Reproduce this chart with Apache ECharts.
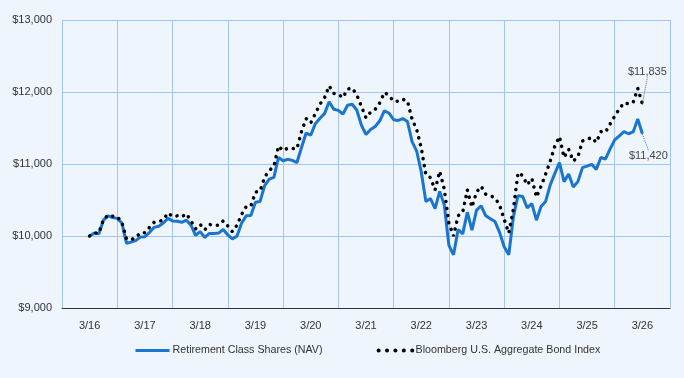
<!DOCTYPE html>
<html lang="en">
<head>
    <meta charset="UTF-8">
    <title>growth of 10k</title>
    <script type="text/javascript" src="https://cdn.jsdelivr.net/npm/echarts@6/dist/echarts.min.js"></script>
    <style>
        html, body { margin: 0; padding: 0; background: #eef5fc; }
    </style>
</head>
<body>
    <div id="main" style="width: 684px; height: 378px"></div>
    <script type="text/javascript">
        // year labels, one per column
        var yearLabels = ['3/16', '3/17', '3/18', '3/19', '3/20', '3/21', '3/22', '3/23', '3/24', '3/25', '3/26'];

        // monthly values, 3/16 .. 3/26
        var fundValues = [
            10000, 10040, 10030, 10220, 10280, 10255, 10245, 10180, 9900, 9915, 9935, 9985,
            9990, 10050, 10120, 10135, 10180, 10245, 10210, 10205, 10190, 10220, 10150, 10010,
            10060, 9980, 10035, 10035, 10040, 10090, 10015, 9960, 10000, 10180, 10280, 10285,
            10470, 10480, 10700, 10790, 10815, 11090, 11045, 11065, 11050, 11020, 11230, 11430,
            11400, 11560, 11635, 11700, 11865, 11760, 11745, 11695, 11815, 11830, 11750, 11540,
            11410, 11480, 11520, 11600, 11740, 11705, 11615, 11605, 11630, 11590, 11310, 11180,
            10890, 10480, 10520, 10380, 10620, 10430, 9870, 9740, 10090, 10030, 10330, 10080,
            10360, 10420, 10280, 10240, 10200, 10050, 9850, 9740, 10270, 10560, 10550, 10390,
            10450, 10220, 10410, 10480, 10710, 10870, 11020, 10755, 10860, 10680, 10755, 10950,
            10970, 10995, 10925, 11090, 11070, 11210, 11335, 11390, 11450, 11420, 11445, 11625,
            11420
        ];
        var indexValues = [
            10000, 10040, 10040, 10230, 10290, 10275, 10270, 10190, 9960, 9950, 9975, 10045,
            10045, 10120, 10190, 10200, 10225, 10320, 10270, 10280, 10265, 10310, 10210, 10100,
            10160, 10085, 10160, 10150, 10150, 10210, 10140, 10060, 10150, 10300, 10410, 10415,
            10610, 10625, 10820, 10910, 10965, 11250, 11185, 11220, 11215, 11210, 11450, 11630,
            11570, 11700, 11830, 11920, 12085, 11980, 11970, 11920, 12040, 12055, 11960, 11800,
            11640, 11720, 11760, 11850, 11995, 11950, 11870, 11870, 11900, 11875, 11620, 11480,
            11220, 10850, 10810, 10640, 10900, 10650, 10180, 10000, 10280, 10330, 10640, 10400,
            10610, 10690, 10580, 10560, 10530, 10430, 10230, 10040, 10370, 10880, 10840, 10710,
            10800, 10540, 10690, 10860, 11040, 11250, 11380, 11090, 11205, 11040, 11100, 11320,
            11340, 11370, 11300, 11450, 11440, 11556, 11665, 11765, 11850, 11835, 11855, 12050,
            11835
        ];

        var gridColor = '#a3c5ef';
        var fontFamily = '"Liberation Sans", Arial, sans-serif';

        function money(v) {
            return '$' + Math.round(v).toLocaleString('en-US');
        }

        // [month, value] pairs; last point gets a tiny symbol so it can carry the end label
        function toPoints(values, color, labelCfg) {
            var last = values.length - 1;
            return values.map(function (v, i) {
                if (i === last) {
                    return {
                        value: [i, v],
                        symbol: 'circle',
                        symbolSize: 1,
                        itemStyle: { color: color },
                        label: labelCfg
                    };
                }
                return [i, v];
            });
        }

        var myChart = echarts.init(document.getElementById('main'));

        var option = {
            backgroundColor: '#eef5fc',
            animation: false,
            textStyle: { fontFamily: fontFamily },
            grid: { left: 62, right: 14, top: 20, bottom: 70 },
            legend: {
                left: 129,
                top: 340,
                itemWidth: 34,
                itemHeight: 12,
                itemGap: 54,
                itemStyle: { opacity: 0 },
                textStyle: { color: '#333', fontSize: 10.7, fontFamily: fontFamily, padding: [0, 0, 0, -2] },
                data: [
                    { name: 'Retirement Class Shares (NAV)', lineStyle: { width: 3 } },
                    { name: 'Bloomberg U.S. Aggregate Bond Index', lineStyle: { width: 4, type: [0.1, 8.3], cap: 'round' } }
                ]
            },
            xAxis: [
                {
                    type: 'category',
                    data: yearLabels,
                    boundaryGap: true,
                    axisTick: { show: false },
                    axisLine: { lineStyle: { color: '#333', width: 1 } },
                    axisLabel: { color: '#333', fontSize: 11, margin: 12 },
                    splitLine: { show: true, lineStyle: { color: gridColor, width: 1 } }
                },
                {
                    // hidden monthly scale, centred on the year columns
                    type: 'value',
                    min: -6,
                    max: 126,
                    show: false
                }
            ],
            yAxis: {
                type: 'value',
                min: 9000,
                max: 13000,
                interval: 1000,
                axisLine: { show: false },
                axisTick: { show: false },
                axisLabel: {
                    color: '#333',
                    fontSize: 11,
                    margin: 10,
                    formatter: money
                },
                splitLine: { lineStyle: { color: gridColor, width: 1 } }
            },
            series: [
                {
                    name: 'Bloomberg U.S. Aggregate Bond Index',
                    type: 'line',
                    xAxisIndex: 1,
                    symbol: 'none',
                    color: '#000',
                    lineStyle: { color: '#000', width: 3.5, type: [0.1, 7], cap: 'round' },
                    data: toPoints(indexValues, '#000', {
                        show: true,
                        position: 'top',
                        color: '#444',
                        fontSize: 11,
                        formatter: function (p) { return money(p.value[1]); }
                    }),
                    labelLayout: { dx: 5, dy: -21 },
                    labelLine: { show: true, lineStyle: { color: '#666', type: 'dotted', width: 1 } },
                    z: 3
                },
                {
                    name: 'Retirement Class Shares (NAV)',
                    type: 'line',
                    xAxisIndex: 1,
                    symbol: 'none',
                    color: '#1a75cf',
                    lineStyle: { color: '#1a75cf', width: 3 },
                    data: toPoints(fundValues, '#1a75cf', {
                        show: true,
                        position: 'bottom',
                        color: '#444',
                        fontSize: 11,
                        formatter: function (p) { return money(p.value[1]); }
                    }),
                    labelLayout: { dx: 6, dy: 11 },
                    labelLine: { show: true, lineStyle: { color: '#1a75cf', type: 'dotted', width: 1 } },
                    z: 2
                }
            ]
        };

        myChart.setOption(option);
    </script>
</body>
</html>
